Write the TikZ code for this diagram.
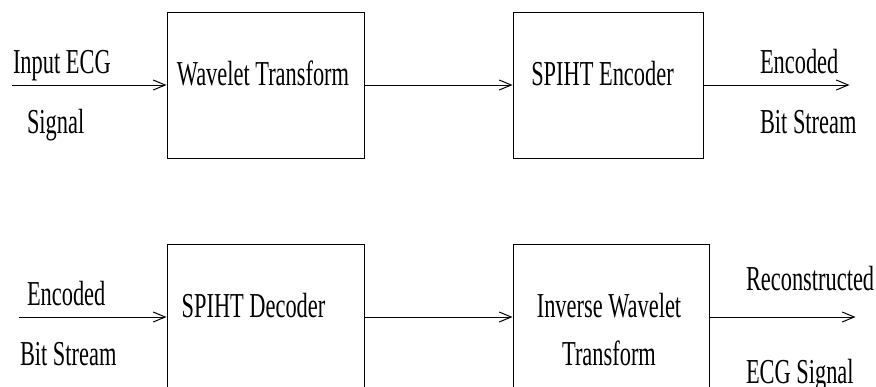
\documentclass[tikz,border=0pt]{standalone}
\usepackage{fontspec}
\setmainfont[FakeStretch=0.64]{Liberation Serif}
\usepackage{tikz}
\usetikzlibrary{
  calc,
  positioning,
  arrows.meta
}

\begin{document}
\begin{tikzpicture}[>={Straight Barb[length=6pt,width=5pt]}, line width=0.5pt]
  \tikzset{
    blk/.style={
      draw, minimum width=98.5pt, minimum height=73pt, inner sep=0pt
    },
    blktxt/.style={anchor=base, inner sep=0pt, align=center},
    sidetxt/.style={anchor=base west, inner sep=0pt},
    every node/.style={font=\fontsize{17.5}{24}\selectfont}
  }
  \useasboundingbox (0,0) rectangle (438pt,-193pt);

  % compression
  \node[blk] (wt) at (132.75pt,-42.5pt) {};
  \node[blk, minimum width=95pt, right=74pt of wt] (enc) {};
  \node[blktxt] (wt-txt) at ([xshift=-1.25pt]wt.center) {Wavelet Transform};
  \node[blktxt] (enc-txt) at ([xshift=-2.75pt]enc.center) {SPIHT Encoder};

  \coordinate (in-a) at ([xshift=-77.5pt]wt.west);
  \coordinate (out-a) at ([xshift=73pt]enc.east);
  \draw[->] (in-a) -- (wt);
  \draw[->] (wt) -- (enc);
  \draw[->] (enc) -- (out-a);

  \node[sidetxt] (in-a-top) at ([shift={(0.5pt,6pt)}]in-a) {Input ECG};
  \node[sidetxt] (in-a-bot) at ([shift={(7.5pt,-24pt)}]in-a) {Signal};
  \node[sidetxt] (out-a-top) at ([shift={(28pt,6pt)}]enc.east) {Encoded};
  \node[sidetxt] (out-a-bot) at ([shift={(28pt,-24pt)}]enc.east) {Bit Stream};

  % reconstruction
  \node[blk, below=42.5pt of wt] (dec) {};
  \node[blk, minimum width=98pt, right=74pt of dec] (iwt) {};
  \node[blktxt] (dec-txt) at ([xshift=-6pt]dec.center) {SPIHT Decoder};
  \node[blktxt] (iwt-txt) at ([shift={(-1pt,-24pt)}]iwt.center) {Inverse Wavelet\\Transform};

  \coordinate (in-b) at ([xshift=-74pt]dec.west);
  \coordinate (out-b) at ([xshift=73pt]iwt.east);
  \draw[->] (in-b) -- (dec);
  \draw[->] (dec) -- (iwt);
  \draw[->] (iwt) -- (out-b);

  \node[sidetxt] (in-b-top) at ([shift={(4pt,6pt)}]in-b) {Encoded};
  \node[sidetxt] (in-b-bot) at ([shift={(0.5pt,-24pt)}]in-b) {Bit Stream};
  \node[sidetxt] (out-b-top) at ([shift={(18pt,13.5pt)}]iwt.east) {Reconstructed};
  \node[sidetxt] (out-b-bot) at ([shift={(18pt,-33pt)}]iwt.east) {ECG Signal};
\end{tikzpicture}
\end{document}
